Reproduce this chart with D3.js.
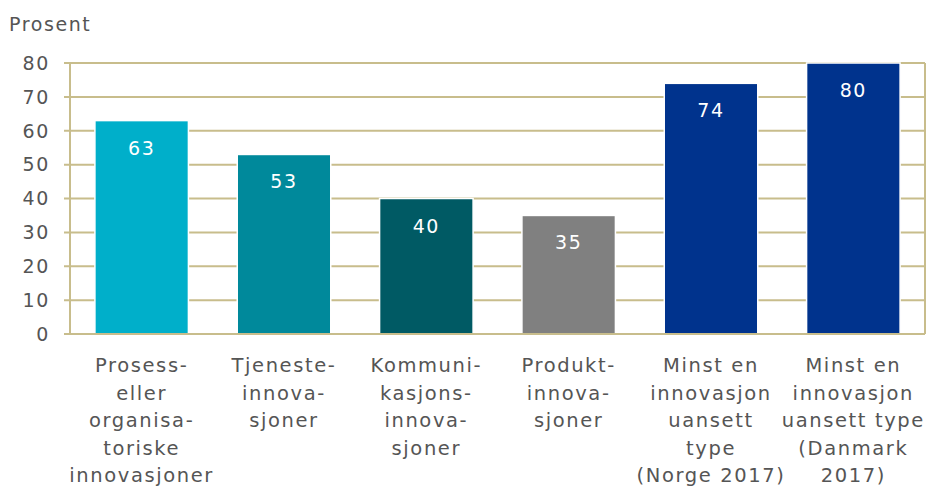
<!DOCTYPE html>
<html>
<head>
<meta charset="utf-8">
<script src="https://cdn.jsdelivr.net/npm/d3@7"></script>
<style>
  body { margin: 0; background: #fff; }
  text { font-family: "DejaVu Sans", Verdana, sans-serif; letter-spacing: 1.6px; }
</style>
</head>
<body>
<svg width="928" height="487"></svg>
<script>
var categories = [
  ["Prosess-", "eller", "organisa-", "toriske", "innovasjoner"],
  ["Tjeneste-", "innova-", "sjoner"],
  ["Kommuni-", "kasjons-", "innova-", "sjoner"],
  ["Produkt-", "innova-", "sjoner"],
  ["Minst en", "innovasjon", "uansett", "type", "(Norge 2017)"],
  ["Minst en", "innovasjon", "uansett type", "(Danmark", "2017)"]
];
var values = [63, 53, 40, 35, 74, 80];
var colors = ["#00afca", "#00899b", "#005a64", "#808080", "#00338d", "#00338d"];
var yTicks = [0, 10, 20, 30, 40, 50, 60, 70, 80];

var svg = d3.select("svg");
var mLeft = 70, mRight = 925, mTop = 63, mBottom = 334;
var grid = "#c8bd8c";

var x = d3.scaleBand()
  .domain(d3.range(values.length))
  .range([mLeft, mRight])
  .paddingInner(0.343)
  .paddingOuter(0.175);

var y = d3.scaleLinear().domain([0, 80]).range([mBottom, mTop]);

// gridlines + ticks
svg.append("g").selectAll("line")
  .data(yTicks)
  .enter().append("line")
  .attr("x1", mLeft - 6)
  .attr("x2", mRight)
  .attr("y1", function(d) { return y(d); })
  .attr("y2", function(d) { return y(d); })
  .attr("stroke", grid)
  .attr("stroke-width", 2);

// left & right border
svg.append("line").attr("x1", mLeft).attr("x2", mLeft).attr("y1", mTop).attr("y2", mBottom)
  .attr("stroke", grid).attr("stroke-width", 2);
svg.append("line").attr("x1", mRight).attr("x2", mRight).attr("y1", mTop).attr("y2", mBottom)
  .attr("stroke", grid).attr("stroke-width", 2);

// tick labels
svg.append("g").selectAll("text")
  .data(yTicks)
  .enter().append("text")
  .attr("x", 50)
  .attr("y", function(d) { return y(d); })
  .attr("dy", "0.36em")
  .attr("text-anchor", "end")
  .attr("fill", "#555")
  .style("font-size", "19px")
  .text(function(d) { return d; });

svg.append("text")
  .attr("x", 9)
  .attr("y", 31)
  .attr("fill", "#555")
  .style("font-size", "19px")
  .text("Prosent");

// bars
svg.append("g").selectAll("rect")
  .data(values)
  .enter().append("rect")
  .attr("x", function(d, i) { return x(i); })
  .attr("width", x.bandwidth())
  .attr("y", function(d) { return y(d); })
  .attr("height", function(d) { return y(0) - y(d); })
  .attr("fill", function(d, i) { return colors[i]; })
  .attr("stroke", "#fff")
  .attr("stroke-width", 1.5);

// bottom axis line over bars
svg.append("line").attr("x1", mLeft - 6).attr("x2", mRight).attr("y1", mBottom).attr("y2", mBottom)
  .attr("stroke", grid).attr("stroke-width", 2);

// value labels
svg.append("g").selectAll("text")
  .data(values)
  .enter().append("text")
  .attr("x", function(d, i) { return x(i) + x.bandwidth() / 2; })
  .attr("y", function(d) { return y(d) + 34; })
  .attr("text-anchor", "middle")
  .attr("fill", "#fff")
  .style("font-size", "19px")
  .text(function(d) { return d; });

// category labels
var cat = svg.append("g").selectAll("text")
  .data(categories)
  .enter().append("text")
  .attr("text-anchor", "middle")
  .attr("fill", "#555")
  .style("font-size", "19.5px");

cat.selectAll("tspan")
  .data(function(d, i) { return d.map(function(t) { return { t: t, i: i }; }); })
  .enter().append("tspan")
  .attr("x", function(d) { return x(d.i) + x.bandwidth() / 2; })
  .attr("y", function(d, j) { return 372 + j * 27.5; })
  .text(function(d) { return d.t; });
</script>
</body>
</html>
